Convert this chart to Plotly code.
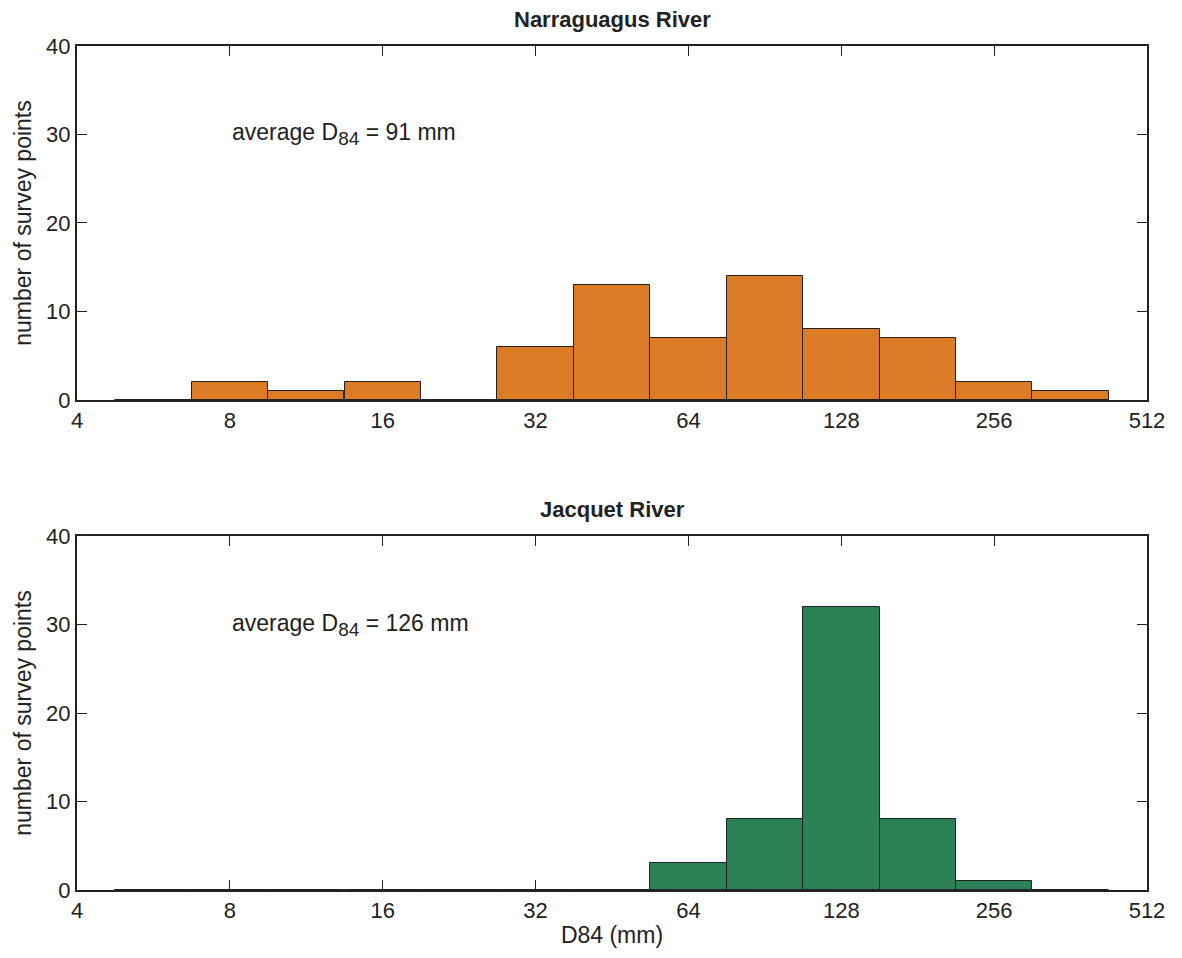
import numpy as np
import plotly.graph_objects as go
from plotly.subplots import make_subplots

# bin centres in mm (half-octave bins)
bin_centers = [5.66, 8, 11.31, 16, 22.63, 32, 45.25, 64, 90.51, 128, 181.02, 256, 362.04]
narraguagus_counts = [0, 2, 1, 2, 0, 6, 13, 7, 14, 8, 7, 2, 1]
jacquet_counts = [0, 0, 0, 0, 0, 0, 0, 3, 8, 32, 8, 1, 0]
tick_values_mm = [4, 8, 16, 32, 64, 128, 256, 512]
titles = ["Narraguagus River", "Jacquet River"]
avg_d84 = [91, 126]
colors = ["#DC7B26", "#2B8257"]

xs = np.log2(bin_centers)
tickpos = np.log2(tick_values_mm)

fig = make_subplots(rows=2, cols=1, vertical_spacing=0.1612)
for i, counts in enumerate([narraguagus_counts, jacquet_counts]):
    fig.add_trace(go.Bar(x=xs, y=counts, width=0.5,
                         marker=dict(color=colors[i], line=dict(color="#222222", width=1)),
                         showlegend=False), row=i + 1, col=1)

fig.update_layout(
    width=1182, height=958,
    margin=dict(l=77, r=35, t=46, b=68),
    paper_bgcolor="white", plot_bgcolor="white",
    font=dict(family="Liberation Sans, Arial, sans-serif", size=22, color="#222222"),
    bargap=0,
)
dom = [[0.5806, 1.0], [0.0, 0.4194]]
for i in range(2):
    r = i + 1
    fig.update_xaxes(range=[2, 9], tickvals=tickpos, ticktext=[str(v) for v in tick_values_mm],
                     ticks="inside", ticklen=10, tickcolor="#222222", showline=True,
                     linecolor="#222222", linewidth=2, mirror="ticks", showgrid=False,
                     zeroline=False, layer="below traces", tickfont=dict(size=22),
                     row=r, col=1)
    fig.update_yaxes(range=[0, 40], tickvals=[0, 10, 20, 30, 40], ticks="inside", ticklen=10,
                     tickcolor="#222222", showline=True, linecolor="#222222", linewidth=2,
                     mirror="ticks", showgrid=False, zeroline=False, layer="below traces",
                     domain=dom[i], tickfont=dict(size=22),
                     title=dict(text="number of survey points", font=dict(size=23), standoff=8),
                     row=r, col=1)
fig.update_xaxes(title=dict(text="D84 (mm)", font=dict(size=23), standoff=4), row=2, col=1)

for i in range(2):
    xref = "x" if i == 0 else "x2"
    yref = "y" if i == 0 else "y2"
    fig.add_annotation(x=3, y=30, xref=xref, yref=yref, xanchor="left", yanchor="middle",
                       text=(f"average D<sub><span style='font-size:19px'>84</span></sub>"
                             f" = {avg_d84[i]} mm"),
                       showarrow=False, font=dict(size=23))
    fig.add_annotation(x=5.5, y=1.0, xref=xref, yref=f"{yref} domain", xanchor="center",
                       yanchor="bottom", yshift=12, text=f"<b>{titles[i]}</b>",
                       showarrow=False, font=dict(size=22))

fig.write_html("out.html")
